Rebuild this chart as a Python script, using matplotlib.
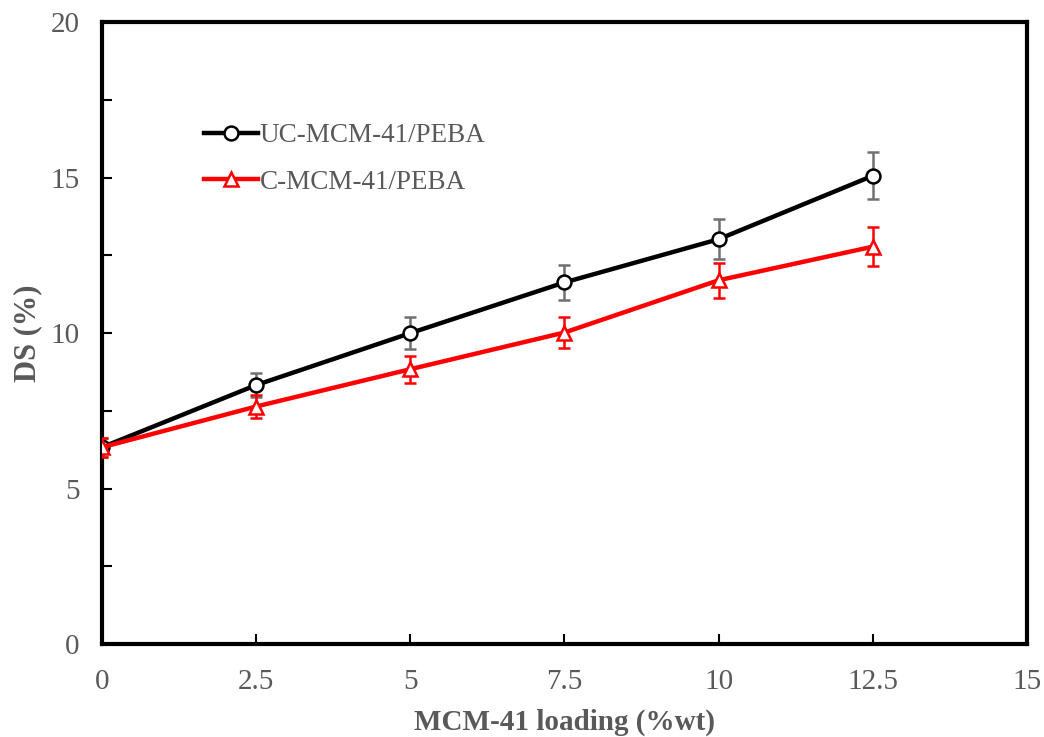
import numpy as np
import matplotlib.pyplot as plt
from matplotlib.ticker import MultipleLocator

# MCM-41 loading (%wt)
loading = [0, 2.5, 5, 7.5, 10, 12.5]

# DS (%) values
ds_uc = [6.33, 8.33, 10.0, 11.63, 13.02, 15.06]
err_uc = [0.30, 0.38, 0.52, 0.57, 0.65, 0.75]
ds_c = [6.33, 7.64, 8.84, 10.02, 11.70, 12.78]
err_c = [0.31, 0.36, 0.43, 0.49, 0.57, 0.63]

grey = '#595959'
plt.rcParams['font.family'] = ['Liberation Serif', 'DejaVu Serif']

fig = plt.figure(figsize=(10.44, 7.37), dpi=100)
ax = fig.add_axes([0.0977, 0.126, 0.886, 0.844])

uc = ax.errorbar(loading, ds_uc, yerr=err_uc, color='black', ecolor='#707070',
                 elinewidth=1.8, capsize=4.5, capthick=1.8, lw=3.2, marker='o',
                 ms=10, mfc='white', mec='black', mew=1.8, zorder=3)
c = ax.errorbar(loading, ds_c, yerr=err_c, color='red', ecolor='red',
                elinewidth=1.8, capsize=4.5, capthick=1.8, lw=3.2, marker='^',
                ms=10, mfc='white', mec='red', mew=1.8, zorder=4)

ax.set_xlim(0, 15)
ax.set_ylim(0, 20)
ax.yaxis.set_major_locator(MultipleLocator(5))
ax.yaxis.set_minor_locator(MultipleLocator(2.5))
ax.set_xticks(loading + [15])
ax.set_xticklabels(['0', '2.5', '5', '7.5', '10', '12.5', '15'])

ax.tick_params(axis='both', which='both', direction='in', colors='black',
               labelcolor=grey, labelsize=21, width=1.5)
ax.tick_params(axis='both', which='major', length=7)
ax.tick_params(axis='y', which='minor', length=7)
ax.tick_params(axis='x', pad=18)
ax.tick_params(axis='y', pad=16)

for s in ax.spines.values():
    s.set_linewidth(3)

ax.set_xlabel('MCM-41 loading (%wt)', fontsize=21, fontweight='bold', color=grey)
ax.set_ylabel('DS (%)', fontsize=22, fontweight='bold', color=grey)
ax.xaxis.set_label_coords(0.5, -0.104)
ax.yaxis.set_label_coords(-0.065, 0.5)

leg = ax.legend([uc[0], c[0]], ['UC-MCM-41/PEBA', 'C-MCM-41/PEBA'],
                loc='upper left', bbox_to_anchor=(0.084, 0.877), frameon=False,
                fontsize=19.5, handlelength=2.0, handletextpad=0.05,
                labelspacing=0.8)
for t in leg.get_texts():
    t.set_color(grey)

fig.savefig('out.png', dpi=100)
